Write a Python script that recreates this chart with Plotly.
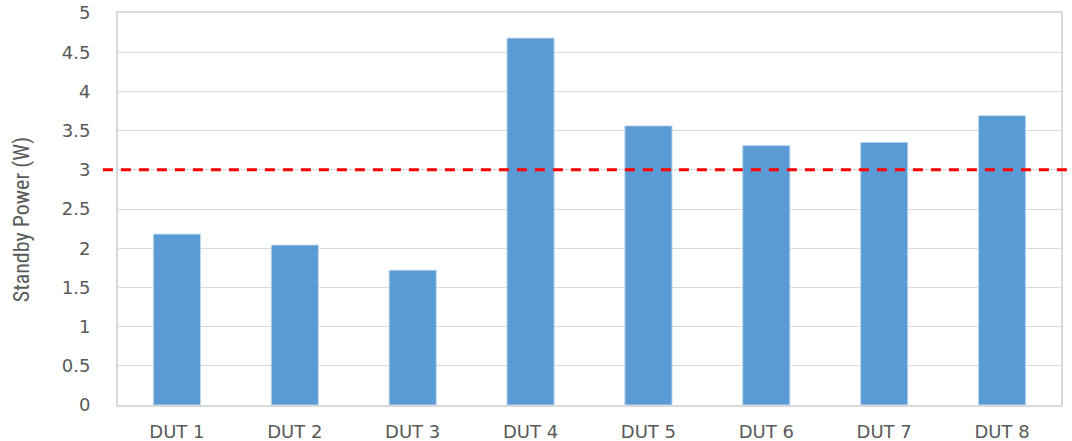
import plotly.graph_objects as go

categories = ["DUT 1", "DUT 2", "DUT 3", "DUT 4", "DUT 5", "DUT 6", "DUT 7", "DUT 8"]
standby_power = [2.18, 2.04, 1.72, 4.68, 3.56, 3.31, 3.35, 3.69]
limit_value = 3
y_ticks = [0, 0.5, 1, 1.5, 2, 2.5, 3, 3.5, 4, 4.5, 5]
y_tick_labels = ["0", "0.5", "1", "1.5", "2", "2.5", "3", "3.5", "4", "4.5", "5"]
y_title = "Standby Power (W)"

fig = go.Figure()
fig.add_trace(go.Bar(
    x=categories, y=standby_power,
    marker=dict(color="#5B9BD5", line=dict(color="#BDD7EE", width=1)),
    width=0.4,
))

fig.add_shape(type="line", xref="paper", yref="y",
              x0=-0.016, x1=1.007, y0=limit_value, y1=limit_value,
              line=dict(color="#FF0000", width=3, dash="10px,8px"), layer="above")

fig.add_annotation(text=y_title, xref="paper", yref="paper",
                   x=-0.1015, y=0.472, xanchor="center", yanchor="middle",
                   textangle=-90, showarrow=False,
                   font=dict(size=22, color="#595959",
                             family="Liberation Sans Narrow, Roboto Condensed, sans-serif"))

font_col = "#595959"
fig.update_layout(
    width=1072, height=441,
    margin=dict(l=118, r=11, t=13, b=36, autoexpand=False),
    plot_bgcolor="white", paper_bgcolor="white",
    showlegend=False,
    font=dict(family="DejaVu Sans, sans-serif", color=font_col, size=18),
    xaxis=dict(
        automargin=False, ticklabeloverflow="allow",
        showline=True, linecolor="#D9D9D9", linewidth=2, mirror=True,
        showgrid=False, tickfont=dict(size=18, color=font_col),
        ticks="outside", ticklen=9, tickcolor="rgba(0,0,0,0)",
    ),
    yaxis=dict(
        automargin=False, ticklabeloverflow="allow",
        range=[0, 5], tickvals=y_ticks, ticktext=y_tick_labels,
        showline=True, linecolor="#D9D9D9", linewidth=2, mirror=True,
        showgrid=True, gridcolor="#D9D9D9", gridwidth=1,
        zeroline=False,
        tickfont=dict(size=18, color=font_col),
        ticks="outside", ticklen=22, tickcolor="rgba(0,0,0,0)",
    ),
)

fig.write_html("out.html",
               config={"displayModeBar": False},
               post_script="document.body.style.margin='0px';document.body.style.overflow='hidden';")
